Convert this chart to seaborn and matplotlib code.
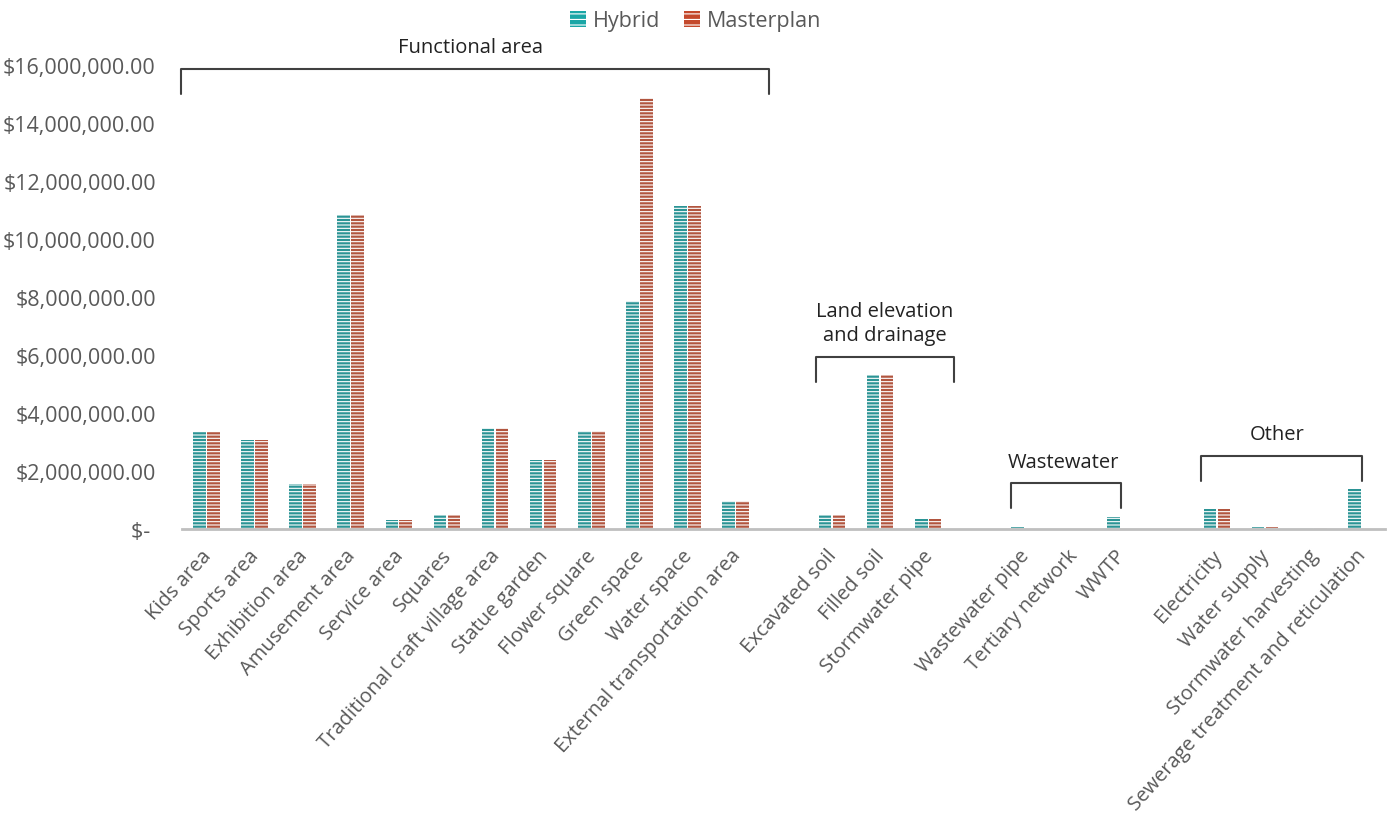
import pandas as pd
import seaborn as sns
import matplotlib.pyplot as plt
from matplotlib.patches import Patch
from matplotlib.ticker import FuncFormatter
from matplotlib.transforms import ScaledTranslation

# Data (USD)
functional = ["Kids area", "Sports area", "Exhibition area", "Amusement area", "Service area",
              "Squares", "Traditional craft village area", "Statue garden", "Flower square",
              "Green space", "Water space", "External transportation area"]
functional_hybrid = [3.34e6, 3.07e6, 1.53e6, 10.8e6, 0.31e6, 0.48e6, 3.48e6, 2.38e6, 3.38e6, 7.85e6, 11.12e6, 0.97e6]
functional_master = [3.34e6, 3.07e6, 1.53e6, 10.8e6, 0.31e6, 0.48e6, 3.48e6, 2.38e6, 3.38e6, 14.86e6, 11.12e6, 0.97e6]

land = ["Excavated soil", "Filled soil", "Stormwater pipe"]
land_hybrid = [0.46e6, 5.29e6, 0.32e6]
land_master = [0.46e6, 5.29e6, 0.32e6]

wastewater = ["Wastewater pipe", "Tertiary network", "WWTP"]
wastewater_hybrid = [0.06e6, 0.0, 0.42e6]
wastewater_master = [0.0, 0.0, 0.0]

other = ["Electricity", "Water supply", "Stormwater harvesting", "Sewerage treatment and reticulation"]
other_hybrid = [0.67e6, 0.07e6, 0.01e6, 1.36e6]
other_master = [0.67e6, 0.07e6, 0.01e6, 0.0]

# Long table
items = functional + land + wastewater + other
hybrid = functional_hybrid + land_hybrid + wastewater_hybrid + other_hybrid
master = functional_master + land_master + wastewater_master + other_master
df = pd.DataFrame({
    "item": items * 2,
    "cost": hybrid + master,
    "scenario": ["Hybrid"] * len(items) + ["Masterplan"] * len(items),
})

# Category order with an empty slot between groups
order = functional + [" "] + land + ["  "] + wastewater + ["   "] + other

colors = {"Hybrid": "#1aa6a6", "Masterplan": "#c4492c"}

sns.set_theme(style="white")
plt.rcParams["font.family"] = ["Open Sans", "DejaVu Sans"]
plt.rcParams["hatch.linewidth"] = 0.8

fig = plt.figure(figsize=(13.91, 8.2), dpi=100)
ax = fig.add_axes([0.131, 0.354, 0.865, 0.566])

sns.barplot(
    data=df, x="item", y="cost", hue="scenario", order=order,
    palette=colors, width=0.58, gap=0.1,
    hatch="-----", edgecolor="white", linewidth=0,
    errorbar=None, legend=False, ax=ax,
)

ax.set_xlim(-0.5, 24.5)
ax.set_ylim(0, 16e6)
ax.set_yticks(range(0, 16000001, 2000000))
ax.yaxis.set_major_formatter(FuncFormatter(lambda v, p: "$- " if v == 0 else f"${v:,.2f}"))
ax.set_xlabel("")
ax.set_ylabel("")

text_col = "#595959"
ax.tick_params(axis="y", labelsize=15.5, labelcolor=text_col, length=0, pad=19)
ax.tick_params(axis="x", labelsize=14.5, labelcolor=text_col, length=0, pad=12)
shift = ScaledTranslation(-6 / 100, 0, fig.dpi_scale_trans)
for lab in ax.get_xticklabels():
    lab.set_rotation(48)
    lab.set_ha("right")
    lab.set_rotation_mode("anchor")
    lab.set_transform(lab.get_transform() + shift)

for s in ["top", "right", "left"]:
    ax.spines[s].set_visible(False)
ax.spines["bottom"].set_color("#bfbfbf")
ax.spines["bottom"].set_linewidth(2)

# Group brackets: (label, x0, x1, top, text x, text y)
brackets = [
    ("Functional area", -0.52, 11.69, 15.86e6, 5.5, 16.6e6),
    ("Land elevation\nand drainage", 12.67, 15.54, 5.93e6, 14.1, 7.1e6),
    ("Wastewater", 16.72, 19.01, 1.59e6, 17.8, 2.31e6),
    ("Other", 20.67, 24.02, 2.52e6, 22.25, 3.28e6),
]
drop = 0.86e6
for label, x0, x1, top, tx, ty in brackets:
    ax.plot([x0, x0, x1, x1], [top - drop, top, top, top - drop],
            color="#404040", lw=1.5, clip_on=False)
    ax.text(tx, ty, label, ha="center", va="center", fontsize=14.5,
            color="#222222", linespacing=1.3, clip_on=False)

# Legend
handles = [Patch(facecolor=colors[k], edgecolor="white", linewidth=0, hatch="---", label=k)
           for k in ["Hybrid", "Masterplan"]]
fig.legend(handles=handles, loc="upper center", bbox_to_anchor=(0.5, 1.01), ncol=2,
           frameon=False, fontsize=15.5, handlelength=0.75, handleheight=0.75,
           handletextpad=0.3, columnspacing=1.1, labelcolor=text_col)

fig.savefig("out.png", dpi=100)
